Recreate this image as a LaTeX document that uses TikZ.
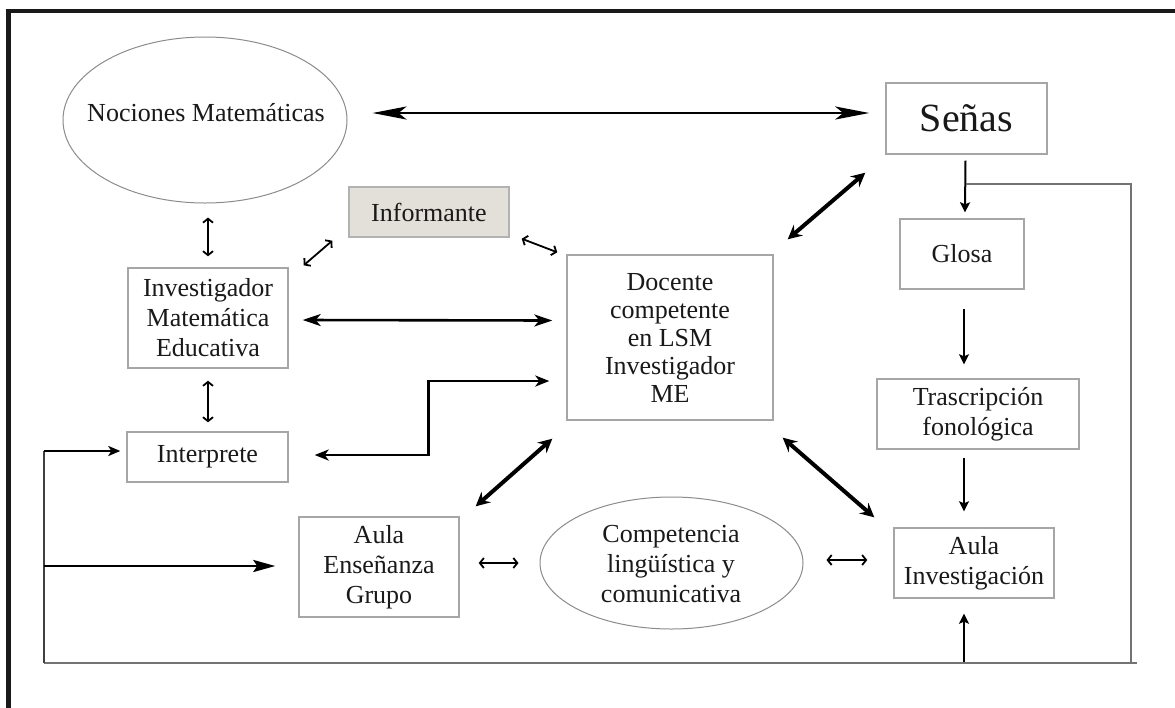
\documentclass[tikz,border=0pt]{standalone}
\usepackage{fontspec}
\setmainfont{Liberation Serif}
\usetikzlibrary{arrows.meta,shapes.geometric,calc}
\newcommand\txtA{\fontsize{13pt}{15pt}\selectfont}
\newcommand\txtB{\fontsize{13pt}{14pt}\selectfont}
\newcommand\txtC{\fontsize{20pt}{24pt}\selectfont}
\definecolor{infofill}{HTML}{E3E0D9}
\begin{document}
\begin{tikzpicture}[x=0.5pt,y=-0.5pt,
  box/.style={draw=black!35, line width=0.7pt, align=center, font=\txtA, inner sep=1pt, text=black!90},
  oval/.style={ellipse, draw=black!45, line width=0.5pt, inner sep=0pt},
  lbl/.style={align=center, font=\txtA, inner sep=0pt, text=black!90},
  big/.style={line width=1.4pt, {Stealth[length=17pt,width=6.5pt,inset=4pt]}-{Stealth[length=17pt,width=6.5pt,inset=4pt]}},
  mid/.style={line width=1.3pt, {Stealth[length=9pt,width=6pt,inset=2.5pt]}-{Stealth[length=9pt,width=6pt,inset=2.5pt]}},
  stepl/.style={line width=1.3pt, {Stealth[length=7pt,width=5.5pt,inset=2pt]}-{Stealth[length=7pt,width=5.5pt,inset=2pt]}},
  diag/.style={line width=2pt, {Stealth[length=7pt,width=7pt,inset=2.5pt]}-{Stealth[length=7pt,width=7pt,inset=2.5pt]}},
  small/.style={line width=0.9pt, {Straight Barb[length=2pt,width=5pt]}-{Straight Barb[length=2pt,width=5pt]}},
  down/.style={line width=1pt, -{Stealth[length=5pt,width=5pt,inset=1pt]}},
  fb/.style={draw=black!55, line width=0.8pt},
  fbdark/.style={draw=black!75, line width=1pt},
  fbarrA/.style={line width=1.3pt, -{Stealth[length=6pt,width=5pt,inset=1.5pt]}},
  fbarrB/.style={line width=1.4pt, -{Stealth[length=11pt,width=6pt,inset=2pt]}}
]
\useasboundingbox (0,0) rectangle (1175,708);
\fill[white] (0,0) rectangle (1175,708);
% frame
\draw[line width=2.2pt, black!90] (8.5,708) -- (8.5,11) -- (1175,11);

% nodes
\node[oval, minimum width=142pt, minimum height=83pt] (nocE) at (205,120) {};
\node[lbl, anchor=base] (noc) at (206,121) {Nociones Matemáticas};
\node[box, font=\txtC, minimum width=80.5pt, minimum height=35.5pt] (sen) at (966.5,118.5) {Señas};
\node[box, fill=infofill, draw=black!30, minimum width=80pt, minimum height=25pt] (info) at (429,212) {Informante};
\node[box, minimum width=80pt, minimum height=50pt] (inv) at (208,318) {Investigador\\Matemática\\Educativa};
\node[box, minimum width=80.5pt, minimum height=25pt] (int) at (207.5,457) {Interprete};
\node[box, font=\txtB, minimum width=103pt, minimum height=82.5pt] (doc) at (670,337.5) {Docente\\competente\\en LSM\\Investigador\\ME};
\node[box, minimum width=62pt, minimum height=35pt] (glo) at (962,254) {Glosa};
\node[box, minimum width=101pt, minimum height=35pt] (tra) at (978,414) {Trascripción\\fonológica};
\node[box, minimum width=80pt, minimum height=50pt] (aen) at (379,567) {Aula\\Enseñanza\\Grupo};
\node[oval, minimum width=131.5pt, minimum height=66pt] (compE) at (671.5,563) {};
\node[lbl] (comp) at (671,564) {Competencia\\lingüística y\\comunicativa};
\node[box, minimum width=80pt, minimum height=35pt] (ainv) at (974,563) {Aula\\Investigación};

% feedback coordinates
\coordinate (fbS) at (966,184);
\coordinate (fbR) at (1131,663);
\coordinate (fbL) at (44,663);
\coordinate (fbI) at (44,451);
\coordinate (fbG) at (44,566);
\coordinate (fbA) at (964,663);

% connectors
\draw[big] ($(nocE.east)+(25,-7)$) -- ($(sen.west)+(-16,-5.5)$);
\draw[mid] ($(inv.east)+(14,2)$) -- ($(doc.west)+(-14,-17)$);
\draw[stepl] ($(int.east)+(26,-2)$) -- ++(114,0) |- ($(doc.west)+(-17,43.5)$);

\draw[small] ($(nocE.south)+(3,14)$) -- ($(inv.north)+(0,-11)$);
\draw[small] ($(inv.south)+(0,12)$) -- ($(int.north)+(0.5,-9)$);
\draw[small] ($(inv.north east)+(15,-2)$) -- ($(info.south west)+(-16,3)$);
\draw[small] ($(info.south east)+(12,1)$) -- ($(doc.north west)+(-9,-2)$);
\draw[small] ($(aen.east)+(19,-4)$) -- ($(compE.west)+(-21,0)$);
\draw[small] ($(compE.east)+(23,-3)$) -- ($(ainv.west)+(-26,-3)$);

\draw[diag] ($(doc.north east)+(14,-15)$) -- ($(sen.south west)+(-20,18)$);
\draw[diag] ($(aen.north east)+(16,-10)$) -- ($(doc.south west)+(-14,18)$);
\draw[diag] ($(doc.south east)+(9,17)$) -- ($(ainv.north west)+(-19,-10)$);

\draw[down] ($(sen.south)+(-1,6)$) -- ($(glo.north)+(3,-6)$);
\draw[down] ($(glo.south)+(2,19)$) -- ($(tra.north)+(-14,-14)$);
\draw[down] ($(tra.south)+(-14,8)$) -- ($(ainv.north)+(-10,-16)$);
\draw[down] (fbA) -- ($(ainv.south)+(-10,15)$);

\draw[fb] (fbS) -| (fbR) -- (fbL);
\draw[fb] (fbR) -- ++(6,0);
\draw[fbdark] (fbL) -- (fbI);
\draw[fbarrA] (fbI) -- ($(int.west)+(-6,-6)$);
\draw[fbarrB] (fbG) -- ($(aen.west)+(-23,-1)$);
\end{tikzpicture}
\end{document}
